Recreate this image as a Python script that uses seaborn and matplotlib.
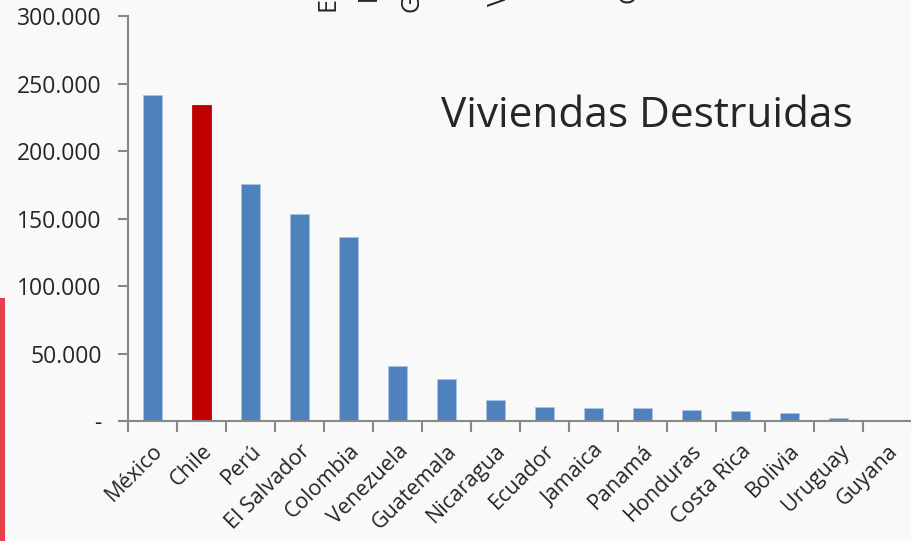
import matplotlib
matplotlib.use("Agg")
import matplotlib.pyplot as plt
from matplotlib.patches import Rectangle
from matplotlib.ticker import FixedLocator, FuncFormatter
import seaborn as sns
import pandas as pd

paises = ["México", "Chile", "Perú", "El Salvador", "Colombia", "Venezuela",
          "Guatemala", "Nicaragua", "Ecuador", "Jamaica", "Panamá", "Honduras",
          "Costa Rica", "Bolivia", "Uruguay", "Guyana"]
viviendas = [241500, 234000, 175500, 153500, 136000, 40700, 31000, 15500,
             10400, 9600, 9400, 8100, 7400, 5700, 2000, 0]
y_ticks = [0, 50000, 100000, 150000, 200000, 250000, 300000]

sns.set_style("white")
plt.rcParams["font.family"] = ["Open Sans", "DejaVu Sans"]

df = pd.DataFrame({"pais": paises, "viviendas": viviendas})
colores = ["#c00000" if p == "Chile" else "#4f81bd" for p in paises]

fig = plt.figure(figsize=(9.12, 5.41), dpi=100, facecolor="#f9f9f9")
ax = fig.add_axes([0.1404, 0.2218, 0.8596, 0.7486])
ax.set_facecolor("#f9f9f9")

sns.barplot(data=df, x="pais", y="viviendas", hue="pais", palette=colores,
            legend=False, width=0.4, saturation=1, ax=ax,
            edgecolor="#a9c4e6", linewidth=0.6)
for bar, c in zip(ax.patches, colores):
    if c == "#c00000":
        bar.set_edgecolor("#c00000")

ax.set_xlim(-0.5, 15.5)
ax.set_ylim(0, 300000)
ax.set_xlabel("")
ax.set_ylabel("")

ax.yaxis.set_major_locator(FixedLocator(y_ticks))
ax.yaxis.set_major_formatter(FuncFormatter(
    lambda v, p: "-" if v == 0 else f"{int(v):,}".replace(",", ".")))
ax.tick_params(axis="y", length=7, width=1.5, color="#888888",
               labelsize=16.5, pad=12, left=True)

ax.set_xticks(range(len(paises)))
ax.set_xticklabels(paises, rotation=45, ha="right", rotation_mode="anchor",
                   fontsize=15.5)
ax.tick_params(axis="x", length=0, pad=14)
ax.set_xticks([i - 0.5 for i in range(len(paises) + 1)], minor=True)
ax.tick_params(axis="x", which="minor", bottom=True, length=8, width=1.5,
               color="#888888")

sns.despine(ax=ax, top=True, right=True)
for s in ["left", "bottom"]:
    ax.spines[s].set_color("#888888")
    ax.spines[s].set_linewidth(1.5)

ax.text(0.662, 0.752, "Viviendas Destruidas", transform=ax.transAxes,
        ha="center", va="center", fontsize=30.5)

# restos del título cortado en la parte superior
for xf, ch, bottom_px in [(0.36, "E", 11), (0.405, "l", 1), (0.452, "G", 12),
                          (0.548, "V", 6), (0.69, "G", 3)]:
    fig.text(xf, 1 - bottom_px / 541, ch, rotation=90, ha="center",
             va="bottom", fontsize=18)

fig.patches.append(Rectangle((0.0, 0.0), 0.006, 0.45, transform=fig.transFigure,
                             facecolor="#e8404a", edgecolor="none"))

fig.savefig("out.png", dpi=100, facecolor=fig.get_facecolor())
